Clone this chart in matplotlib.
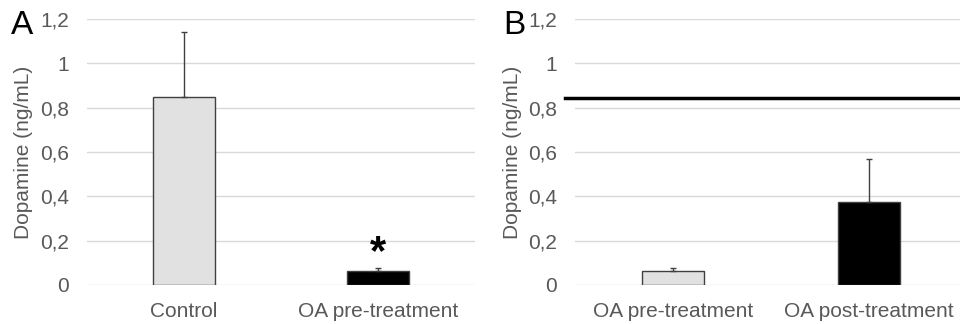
import matplotlib.pyplot as plt

plt.rcParams['font.family'] = ['Liberation Sans', 'DejaVu Sans']

# panel A
cats_a = ['Control', 'OA pre-treatment']
vals_a = [0.85, 0.065]
errs_a = [0.29, 0.01]
colors_a = ['#e1e1e1', '#000000']

# panel B
cats_b = ['OA pre-treatment', 'OA post-treatment']
vals_b = [0.065, 0.375]
errs_b = [0.01, 0.192]
colors_b = ['#e1e1e1', '#000000']
control_level = 0.845

yticks = [0, 0.2, 0.4, 0.6, 0.8, 1.0, 1.2]
ytick_labels = ['0', '0,2', '0,4', '0,6', '0,8', '1', '1,2']

grey = '#595959'
fs = 15

fig = plt.figure(figsize=(9.6, 3.24), dpi=100)
ax_a = fig.add_axes([87 / 960, 39 / 324, 388 / 960, 266 / 324])
ax_b = fig.add_axes([575 / 960, 39 / 324, 392 / 960, 266 / 324])


def style_panel(ax, cats, vals, errs, colors):
    x = range(len(cats))
    ax.bar(x, vals, width=0.32, color=colors, edgecolor='#404040', linewidth=1.0, zorder=3)
    ax.errorbar(x, vals, yerr=[[0] * len(errs), errs], fmt='none',
                ecolor='#404040', elinewidth=1.0, capsize=2.5, capthick=1.0, zorder=4)
    ax.set_xlim(-0.5, len(cats) - 0.5)
    ax.set_ylim(0, 1.2)
    ax.set_yticks(yticks)
    ax.set_yticklabels(ytick_labels)
    ax.set_xticks(list(x))
    ax.set_xticklabels(cats)
    ax.grid(axis='y', color='#d9d9d9', linewidth=1.0, zorder=0)
    for s in ax.spines.values():
        s.set_visible(False)
    ax.tick_params(axis='y', length=0, pad=13, labelsize=fs, labelcolor=grey)
    ax.tick_params(axis='x', length=0, pad=12, labelsize=fs, labelcolor=grey)
    ax.set_ylabel('Dopamine (ng/mL)', fontsize=fs, color=grey)


style_panel(ax_a, cats_a, vals_a, errs_a, colors_a)
style_panel(ax_b, cats_b, vals_b, errs_b, colors_b)
ax_a.yaxis.set_label_coords(-0.139, 0.5)
ax_b.yaxis.set_label_coords(-0.135, 0.5)

# significance mark
ax_a.text(1, vals_a[1] + errs_a[1] - 0.02, '*', ha='center', va='bottom',
          fontsize=30, fontweight='bold', color='black')

# control reference line
ax_b.plot([-0.55, 1.5], [control_level, control_level], color='black',
          linewidth=2.5, clip_on=False, zorder=5)

fig.text(11 / 960, 1 - 26 / 324, 'A', fontsize=24, va='center', ha='left')
fig.text(503 / 960, 1 - 26 / 324, 'B', fontsize=24, va='center', ha='left')

plt.savefig('out.png', dpi=100)
